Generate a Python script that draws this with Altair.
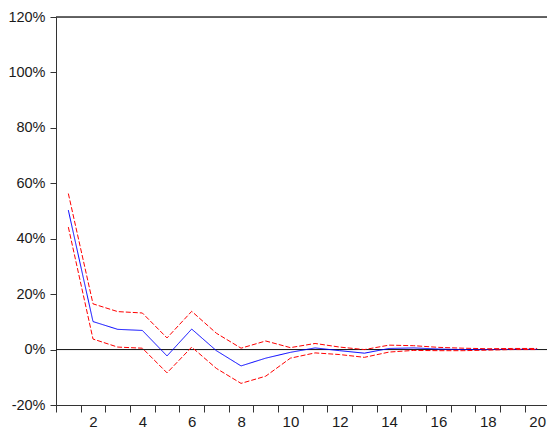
import altair as alt
import pandas as pd

horizon = list(range(1, 21))
response = [50.3, 10.1, 7.3, 6.9, -2.3, 7.4, -0.4, -5.9, -3.1, -1.0,
            0.6, -0.4, -1.3, 0.4, 0.6, 0.2, 0.0, 0.0, 0.1, 0.1]
upper_band = [56.3, 16.5, 13.7, 13.2, 4.2, 13.8, 5.9, 0.5, 3.1, 0.7,
              2.2, 0.9, 0.0, 1.6, 1.4, 0.8, 0.5, 0.3, 0.4, 0.4]
lower_band = [44.2, 3.8, 0.9, 0.5, -8.4, 0.9, -6.8, -12.2, -9.6, -3.1,
              -1.2, -1.8, -2.8, -0.9, -0.3, -0.4, -0.4, -0.2, 0.0, 0.0]

y_ticks = [-20, 0, 20, 40, 60, 80, 100, 120]
x_labels = [2, 4, 6, 8, 10, 12, 14, 16, 18, 20]
x_ticks = [i + 0.5 for i in range(0, 20)]

rows = []
for name, vals in [("response", response), ("upper", upper_band), ("lower", lower_band)]:
    for h, v in zip(horizon, vals):
        rows.append({"h": h, "v": v, "series": name})
df = pd.DataFrame(rows)

FONT = "Liberation Sans, Arial"
W, H = 491, 388

xscale = alt.Scale(domain=[0.5, 20.4], nice=False, zero=False)
yscale = alt.Scale(domain=[-20, 120], nice=False, zero=False)

xaxis = alt.Axis(
    values=x_ticks + x_labels,
    labelExpr="datum.value % 2 == 0 ? datum.value : ''",
    tickOpacity={"condition": {"test": "datum.value % 1 == 0", "value": 0}, "value": 1},
    title=None, grid=False, tickSize=7, labelPadding=2,
    labelFont=FONT, labelFontSize=15, labelColor="#1a1a1a",
    domainColor="#333333", tickColor="#333333", labelFlush=False, labelOverlap=False,
)
yaxis = alt.Axis(
    values=y_ticks, labelExpr="datum.value + '%'",
    title=None, grid=False, tickSize=6, labelPadding=5,
    labelFont=FONT, labelFontSize=14.5, labelColor="#1a1a1a",
    domainColor="#333333", tickColor="#333333", labelOverlap=False,
)

lines = alt.Chart(df).mark_line(strokeWidth=1).encode(
    x=alt.X("h:Q", scale=xscale, axis=xaxis),
    y=alt.Y("v:Q", scale=yscale, axis=yaxis),
    color=alt.Color("series:N", scale=alt.Scale(domain=["response", "upper", "lower"],
                                                 range=["#0000ff", "#ff0000", "#ff0000"]), legend=None),
    strokeDash=alt.StrokeDash("series:N", scale=alt.Scale(domain=["response", "upper", "lower"],
                                                          range=[[1, 0], [5, 2], [5, 2]]), legend=None),
    order=alt.Order("h:Q"),
    detail="series:N",
)

zero = alt.Chart(pd.DataFrame({"z": [0]})).mark_rule(color="#111111", strokeWidth=1).encode(
    y=alt.Y("z:Q", scale=yscale),
)

top = alt.Chart(pd.DataFrame({"t": [120]})).mark_rule(color="#333333", strokeWidth=1.5).encode(
    y=alt.Y("t:Q", scale=yscale),
)

chart = alt.layer(zero, top, lines).properties(
    width=W, height=H,
    autosize=alt.AutoSizeParams(type="none"),
    padding={"left": 48, "top": 9, "right": 0, "bottom": 25},
).configure_view(stroke=None).configure(background="white")

chart.save("out.html", embed_options={"renderer": "svg", "actions": False})
